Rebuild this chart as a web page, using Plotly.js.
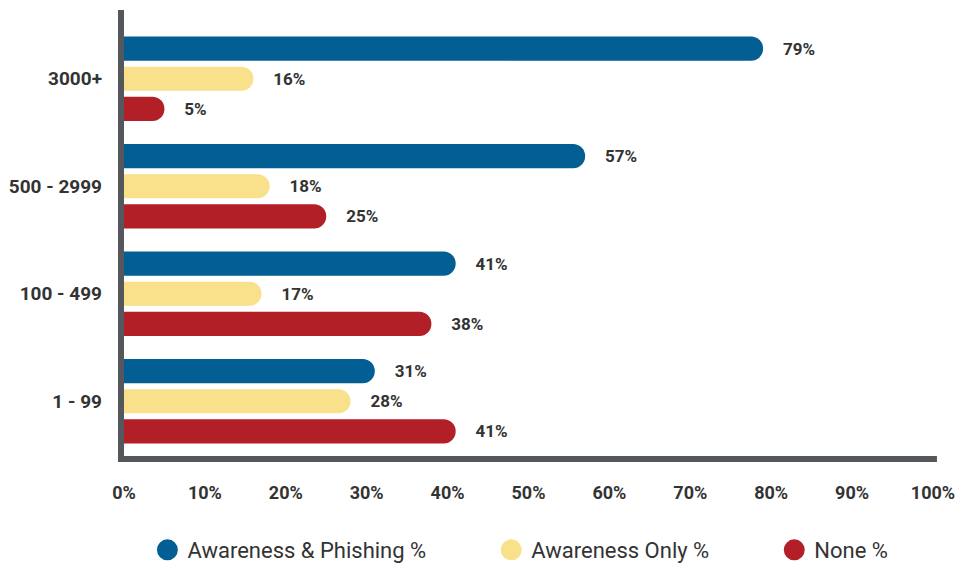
<!DOCTYPE html>
<html>
<head>
<meta charset="utf-8">
<script src="https://cdn.plot.ly/plotly-3.0.1.min.js"></script>
<style>html,body{margin:0;padding:0;background:#fff;}#chart{width:959px;height:564px;}</style>
</head>
<body>
<div id="chart"></div>
<script>
const categories = ['3000+', '500 - 2999', '100 - 499', '1 - 99'];
const awarenessPhishing = [79, 57, 41, 31];
const awarenessOnly = [16, 18, 17, 28];
const noneValues = [5, 25, 38, 41];
const seriesNames = ['Awareness & Phishing %', 'Awareness Only %', 'None %'];
const xTickValues = [0, 10, 20, 30, 40, 50, 60, 70, 80, 90, 100];
const xTickLabels = ['0%', '10%', '20%', '30%', '40%', '50%', '60%', '70%', '80%', '90%', '100%'];

const colors = ['#035e93', '#f9e08b', '#b31f27'];
const seriesValues = [awarenessPhishing, awarenessOnly, noneValues];
const pad = '\u00a0'.repeat(11);

const labelFont = {family: 'Roboto, sans-serif', size: 17, color: '#333333', weight: 700};

const traces = [];
seriesValues.forEach((vals, i) => {
  traces.push({
    type: 'bar', orientation: 'h',
    y: categories, x: vals,
    name: seriesNames[i],
    marker: {color: colors[i]},
    text: vals.map(v => '\u00a0\u00a0\u00a0\u00a0' + v + '%'),
    textposition: 'outside',
    textfont: labelFont,
    cliponaxis: false,
    showlegend: false,
    hoverinfo: 'skip'
  });
});
seriesValues.forEach((vals, i) => {
  traces.push({
    type: 'scatter', mode: 'markers',
    x: [null], y: [null],
    name: seriesNames[i] + (i < 2 ? pad : ''),
    marker: {color: colors[i], size: 24, symbol: 'circle', line: {color: colors[i], width: 5}},
    showlegend: true
  });
});

const layout = {
  width: 959, height: 564,
  margin: {l: 124, r: 26, t: 25, b: 109, autoexpand: false},
  paper_bgcolor: '#ffffff', plot_bgcolor: '#ffffff',
  barmode: 'group', bargap: 0.16, bargroupgap: 0.2,
  barcornerradius: 12,
  xaxis: {
    range: [0, 100], tickvals: xTickValues, ticktext: xTickLabels,
    showgrid: false, zeroline: false, showline: false, ticks: '',
    tickfont: Object.assign({}, labelFont, {size: 18}), ticklabelstandoff: 25, fixedrange: true
  },
  yaxis: {
    autorange: 'reversed', showgrid: false, zeroline: false, showline: false,
    ticks: '', tickfont: Object.assign({}, labelFont, {size: 19}), ticklabelstandoff: 21, fixedrange: true
  },
  showlegend: true,
  legend: {
    orientation: 'h', x: 0.49, xanchor: 'center', y: -0.221, yanchor: 'middle',
    font: {family: 'Roboto, sans-serif', size: 22, color: '#333333'},
    itemclick: false
  },
  shapes: [
    {type: 'line', xref: 'paper', yref: 'paper', x0: -0.0037, x1: -0.0037, y0: -0.0163, y1: 1.035,
     line: {color: '#54585c', width: 6}},
    {type: 'line', xref: 'paper', yref: 'paper', x0: -0.0074, x1: 1.0049, y0: -0.0093, y1: -0.0093,
     line: {color: '#54585c', width: 6}}
  ]
};

Plotly.newPlot('chart', traces, layout, {displayModeBar: false, staticPlot: true});
</script>
</body>
</html>
